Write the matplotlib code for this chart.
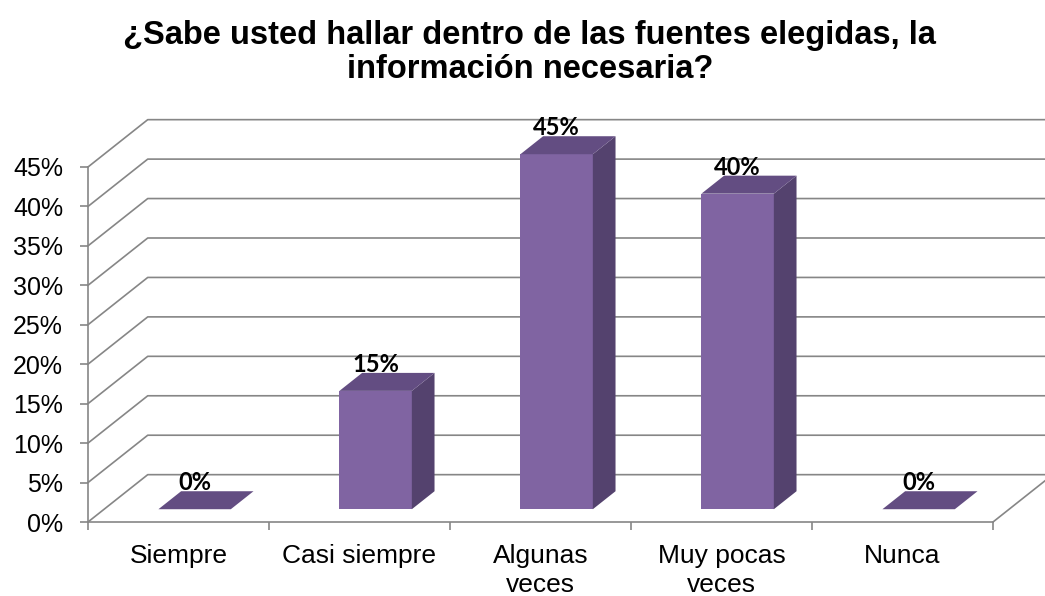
import matplotlib
matplotlib.use("Agg")
import matplotlib.pyplot as plt
from matplotlib.patches import Polygon

#data for the survey question
categories = ["Siempre", "Casi siempre", "Algunas\nveces", "Muy pocas\nveces", "Nunca"]
percentages = [0, 15, 45, 40, 0]
y_ticks = [0, 5, 10, 15, 20, 25, 30, 35, 40, 45]
title = "¿Sabe usted hallar dentro de las fuentes elegidas, la\ninformación necesaria?"

#fake 3d look: depth offset of the back wall in data units
DX = 0.33
DY = 6.0
BAR_W = 0.4
F1, F2 = 0.27, 0.65   #front and back of the bars as a fraction of the depth

GRID = "#868686"
FRONT = "#8064a2"
SIDE = "#54426e"
TOP = "#634d82"

fig = plt.figure(figsize=(10.45, 5.96), dpi=100)
ax = fig.add_axes([88 / 1045, 74 / 596, (1045 - 88) / 1045, 412 / 596])
ax.set_xlim(0, (1045 - 88) / 181)
ax.set_ylim(0, 412 / 7.889)

#back wall gridlines that bend onto the side wall
n = len(categories)
for v in y_ticks:
    ax.plot([0, DX, n + DX], [v, v + DY, v + DY], color=GRID, lw=1.2, clip_on=False, zorder=1)
#right edge of the floor
ax.plot([n, n + DX], [0, DY], color=GRID, lw=1.2, clip_on=False, zorder=1)

#bars: front face, side face and top face
for i, v in enumerate(percentages):
    x0 = i + 0.5 - BAR_W / 2 + F1 * DX
    b0 = F1 * DY
    ddx = (F2 - F1) * DX
    ddy = (F2 - F1) * DY
    ax.bar(x0, v, width=BAR_W, bottom=b0, align="edge", color=FRONT, zorder=3)
    x1 = x0 + BAR_W
    side = [(x1, b0), (x1 + ddx, b0 + ddy), (x1 + ddx, b0 + ddy + v), (x1, b0 + v)]
    top = [(x0, b0 + v), (x1, b0 + v), (x1 + ddx, b0 + v + ddy), (x0 + ddx, b0 + v + ddy)]
    if v > 0:
        ax.add_patch(Polygon(side, closed=True, facecolor=SIDE, edgecolor="none", zorder=3))
    ax.add_patch(Polygon(top, closed=True, facecolor=TOP, edgecolor="none", zorder=3))
    ax.text(x0 + BAR_W / 2, v + F2 * DY + 0.1, f"{v}%", ha="center", va="baseline",
            fontsize=17, fontweight="bold", family="Lato", zorder=4)

#axes styling
for s in ["top", "right"]:
    ax.spines[s].set_visible(False)
ax.spines["left"].set_bounds(0, 45)
ax.spines["bottom"].set_bounds(0, n)
for s in ["left", "bottom"]:
    ax.spines[s].set_color(GRID)
    ax.spines[s].set_linewidth(1.2)

ax.set_yticks(y_ticks)
ax.set_yticklabels([f"{v}%" for v in y_ticks], family="Liberation Sans", fontsize=18)
ax.tick_params(axis="y", direction="out", length=6, width=1.2, color=GRID, pad=12)

ax.set_xticks([i + 0.5 for i in range(n)])
ax.set_xticklabels(categories, family="Liberation Sans", fontsize=19, linespacing=1.25)
ax.set_xticks(range(n + 1), minor=True)
ax.tick_params(axis="x", which="major", length=0, pad=16)
ax.tick_params(axis="x", which="minor", direction="out", length=6, width=1.2, color=GRID)

fig.text(0.507, 0.966, title, ha="center", va="top", fontsize=23.5, fontweight="bold",
         family="Liberation Sans", linespacing=1.1)

fig.savefig("out.png", dpi=100)
